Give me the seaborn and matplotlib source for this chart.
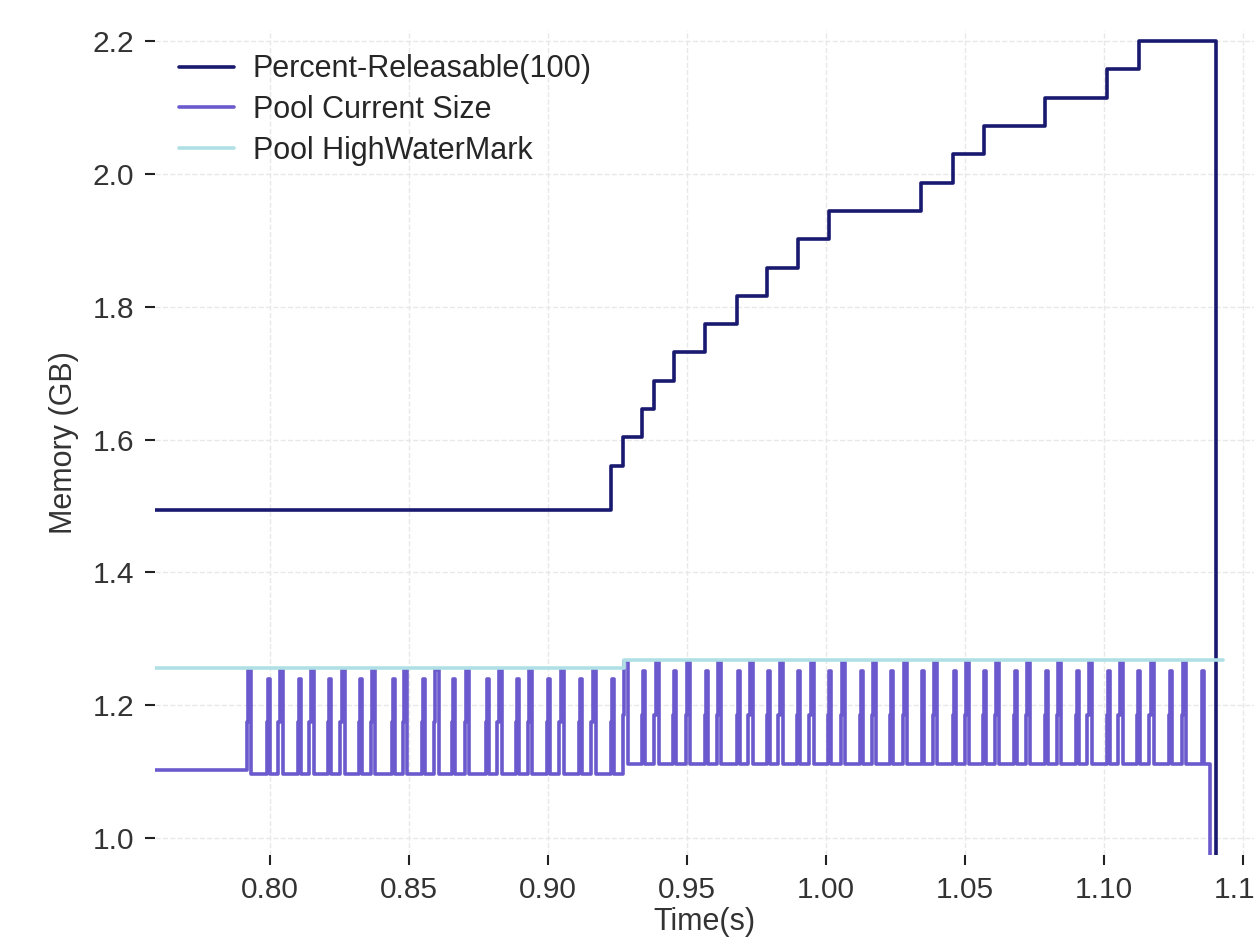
import pandas as pd
import matplotlib.pyplot as plt
import seaborn as sns

# --- data (time in s, memory in GB) ---

# Percent-Releasable(100): step change points
pr_time = [0.7586, 0.9227, 0.9269, 0.9339, 0.9381, 0.9453, 0.9566, 0.9679,
           0.9788, 0.9899, 1.0011, 1.0342, 1.0456, 1.0568, 1.0788, 1.1010,
           1.1125, 1.1402]
pr_mem = [1.4937, 1.5604, 1.6032, 1.6458, 1.6884, 1.7312, 1.7738, 1.8160,
          1.8581, 1.9018, 1.9440, 1.9866, 2.0294, 2.0720, 2.1146, 2.1574,
          2.2000, 0.0]

# Pool HighWaterMark: step change points
hwm_time = [0.7586, 0.9273, 1.1427]
hwm_mem = [1.2562, 1.2678, 1.2678]

# Pool Current Size: baseline levels and spike start times
pool_start = 0.7586
pool_end = 1.1381
pool_switch = 0.9272          # baseline moves up after this time
pool_base_pre = 1.102
pool_base = [1.097, 1.111]    # before / after the switch
pool_mid = [1.175, 1.185]     # short shoulder on the way up
pool_tall_peak = [1.253, 1.266]
pool_short_peak = [1.239, 1.251]

tall_spikes = [0.7916, 0.8030, 0.8141, 0.8252, 0.8362, 0.8478, 0.8590, 0.8701,
               0.8817, 0.8928, 0.9040, 0.9155, 0.9270,
               0.9382, 0.9496, 0.9607, 0.9721, 0.9828, 0.9940, 1.0053, 1.0164,
               1.0276, 1.0385, 1.0500, 1.0608, 1.0719, 1.0830, 1.0940, 1.1051,
               1.1163, 1.1280]
short_spikes = [0.7988, 0.8100, 0.8210, 0.8321, 0.8438, 0.8547, 0.8655, 0.8777,
                0.8885, 0.8996, 0.9112, 0.9227,
                0.9337, 0.9451, 0.9565, 0.9679, 0.9787, 0.9897, 1.0008, 1.0122,
                1.0230, 1.0344, 1.0456, 1.0566, 1.0677, 1.0788, 1.0899, 1.1010,
                1.1120, 1.1235, 1.1351]

series_names = ['Percent-Releasable(100)', 'Pool Current Size', 'Pool HighWaterMark']
series_colors = ['#191970', '#6a5acd', '#b0e0e6']

# --- build long-form table (step-post points) ---
pool_t = [pool_start]
pool_v = [pool_base_pre]
spikes = sorted([(t, 'tall') for t in tall_spikes] + [(t, 'short') for t in short_spikes])
for t0, kind in spikes:
    seg = 0 if t0 < pool_switch - 0.0005 else 1
    after = 1 if t0 >= pool_switch - 0.0005 else 0
    if kind == 'tall':
        pool_t += [t0, t0 + 0.0005, t0 + 0.0016]
        pool_v += [pool_mid[seg], pool_tall_peak[seg], pool_base[after]]
    else:
        pool_t += [t0, t0 + 0.0003, t0 + 0.0010]
        pool_v += [pool_mid[seg], pool_short_peak[seg], pool_base[after]]
pool_t.append(pool_end)
pool_v.append(0.0)

df = pd.concat([
    pd.DataFrame({'time': pr_time, 'mem': pr_mem, 'series': series_names[0]}),
    pd.DataFrame({'time': pool_t, 'mem': pool_v, 'series': series_names[1]}),
    pd.DataFrame({'time': hwm_time, 'mem': hwm_mem, 'series': series_names[2]}),
], ignore_index=True)

# --- plot ---
sns.set_theme(style='whitegrid')
plt.rcParams['font.family'] = ['Liberation Sans', 'DejaVu Sans']

fig = plt.figure(figsize=(12.54, 9.39), dpi=100)
ax = fig.add_axes([155 / 1254, 84 / 939, 1 - 155 / 1254, 825 / 939])

sns.lineplot(data=df, x='time', y='mem', hue='series', hue_order=series_names,
             palette=series_colors, estimator=None, sort=False,
             drawstyle='steps-post', linewidth=2.6, ax=ax)

ax.set_xlim(0.7586, 1.15396)
ax.set_ylim(0.9744, 2.2166)
ax.set_xticks([0.80, 0.85, 0.90, 0.95, 1.00, 1.05, 1.10, 1.15])
ax.set_yticks([1.0, 1.2, 1.4, 1.6, 1.8, 2.0, 2.2])
ax.xaxis.set_major_formatter(plt.FormatStrFormatter('%.2f'))
ax.yaxis.set_major_formatter(plt.FormatStrFormatter('%.1f'))

ax.grid(True, linestyle='--', color='#e8e8e8', linewidth=1.0)
for s in ax.spines.values():
    s.set_visible(False)
ax.tick_params(axis='both', which='major', labelsize=21.5, labelcolor='#333333',
               color='#222222', length=7, width=1.5, direction='out',
               bottom=True, left=True, pad=8)

ax.set_xlabel('Time(s)', fontsize=22, color='#333333', labelpad=2)
ax.set_ylabel('Memory (GB)', fontsize=22, color='#333333', labelpad=10)

leg = ax.legend(loc='upper left', frameon=False, fontsize=22,
                handlelength=1.8, handletextpad=0.6, labelspacing=0.35,
                borderaxespad=0.4, bbox_to_anchor=(0.0, 1.0))
for line in leg.get_lines():
    line.set_linewidth(2.6)

fig.savefig('out.png', dpi=100)
